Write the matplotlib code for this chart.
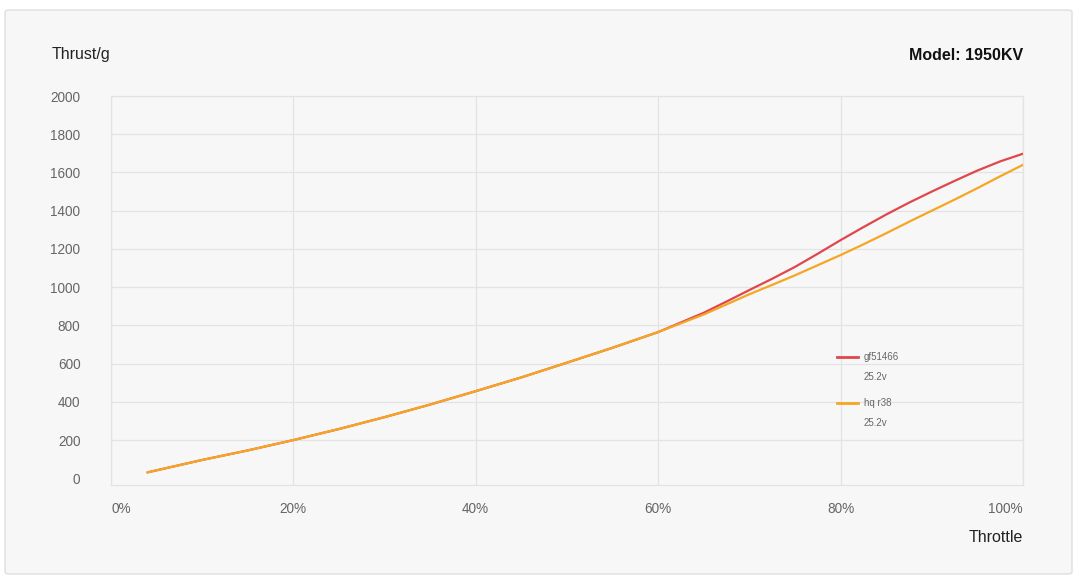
import matplotlib
matplotlib.use("Agg")
import matplotlib.pyplot as plt
from matplotlib.patches import FancyBboxPatch
from matplotlib.lines import Line2D

plt.rcParams["font.family"] = ["Liberation Sans", "DejaVu Sans"]

# ---------------------------------------------------------------------------
# Data
# ---------------------------------------------------------------------------
throttle = [4, 10, 15, 20, 25, 30, 35, 40, 45, 50, 55, 60,
            65, 67.5, 70, 72.5, 75, 77.5, 80, 82.5, 85, 87.5,
            90, 92.5, 95, 97.5, 100]
thrust_gf51466 = [31, 96, 146, 200, 258, 320, 386, 456, 528, 605, 683, 765,
                  866, 925, 985, 1044, 1106, 1175, 1246, 1314, 1380, 1442,
                  1500, 1556, 1610, 1658, 1698]
thrust_hqr38 = [31, 96, 146, 200, 258, 320, 386, 456, 528, 605, 683, 765,
                857, 910, 963, 1012, 1062, 1115, 1168, 1224, 1282, 1342,
                1400, 1458, 1518, 1580, 1640]

series_names = ["gf51466", "hq r38"]
series_sub = ["25.2v", "25.2v"]
x_ticks = [0, 20, 40, 60, 80, 100]
x_labels = ["0%", "20%", "40%", "60%", "80%", "100%"]
y_ticks = list(range(0, 2001, 200))

RED = "#e0474c"
YELLOW = "#f5a623"
GRID = "#e3e3e3"
TXT = "#666666"
BG = "#f7f7f7"

W, H = 1080, 588
fig = plt.figure(figsize=(W / 100, H / 100), dpi=100, facecolor="white")

# card background
card = FancyBboxPatch((5 / W, 1 - 574 / H), 1067 / W, 564 / H,
                      boxstyle="round,pad=0,rounding_size=0.004",
                      transform=fig.transFigure, facecolor=BG,
                      edgecolor="#dedede", linewidth=1.0, zorder=-10)
fig.patches.append(card)

ax = fig.add_axes([111 / W, 1 - 485 / H, 912 / W, 389 / H])
ax.set_facecolor(BG)

ax.plot(throttle, thrust_gf51466, color=RED, linewidth=1.6, zorder=3,
        solid_capstyle="round", solid_joinstyle="round")
ax.plot(throttle, thrust_hqr38, color=YELLOW, linewidth=1.6, zorder=4,
        solid_capstyle="round", solid_joinstyle="round")

ax.set_xlim(0, 100)
ax.set_ylim(-35, 2000)
ax.set_xticks(x_ticks)
ax.set_xticklabels(x_labels)
ax.set_yticks(y_ticks)
ax.grid(True, color=GRID, linewidth=0.9)
ax.set_axisbelow(True)
ax.get_ygridlines()[0].set_visible(False)
for s in ax.spines.values():
    s.set_color(GRID)
    s.set_linewidth(0.9)
ax.tick_params(length=0, labelsize=9.8, labelcolor=TXT)
ax.tick_params(axis="y", pad=22)
ax.tick_params(axis="x", pad=12)
labs = ax.get_xticklabels()
labs[0].set_horizontalalignment("left")
labs[-1].set_horizontalalignment("right")

# titles
fig.text(52 / W, 1 - 54 / H, "Thrust/g", fontsize=11.5, color="#222222",
         ha="left", va="center")
fig.text(1023 / W, 1 - 55 / H, "Model: 1950KV", fontsize=11.5,
         fontweight="bold", color="#111111", ha="right", va="center")
fig.text(1023 / W, 1 - 538 / H, "Throttle", fontsize=11.5, color="#222222",
         ha="right", va="center")

# legend
for i, (name, sub, col) in enumerate(zip(series_names, series_sub, [RED, YELLOW])):
    y0 = 357 + i * 46
    fig.add_artist(Line2D([837 / W, 858 / W], [1 - y0 / H, 1 - y0 / H],
                          transform=fig.transFigure, color=col, linewidth=2))
    fig.text(864 / W, 1 - y0 / H, name, fontsize=7, color=TXT,
             ha="left", va="center")
    fig.text(864 / W, 1 - (y0 + 20) / H, sub, fontsize=7, color=TXT,
             ha="left", va="center")

fig.savefig("out.png", dpi=100, facecolor="white")
